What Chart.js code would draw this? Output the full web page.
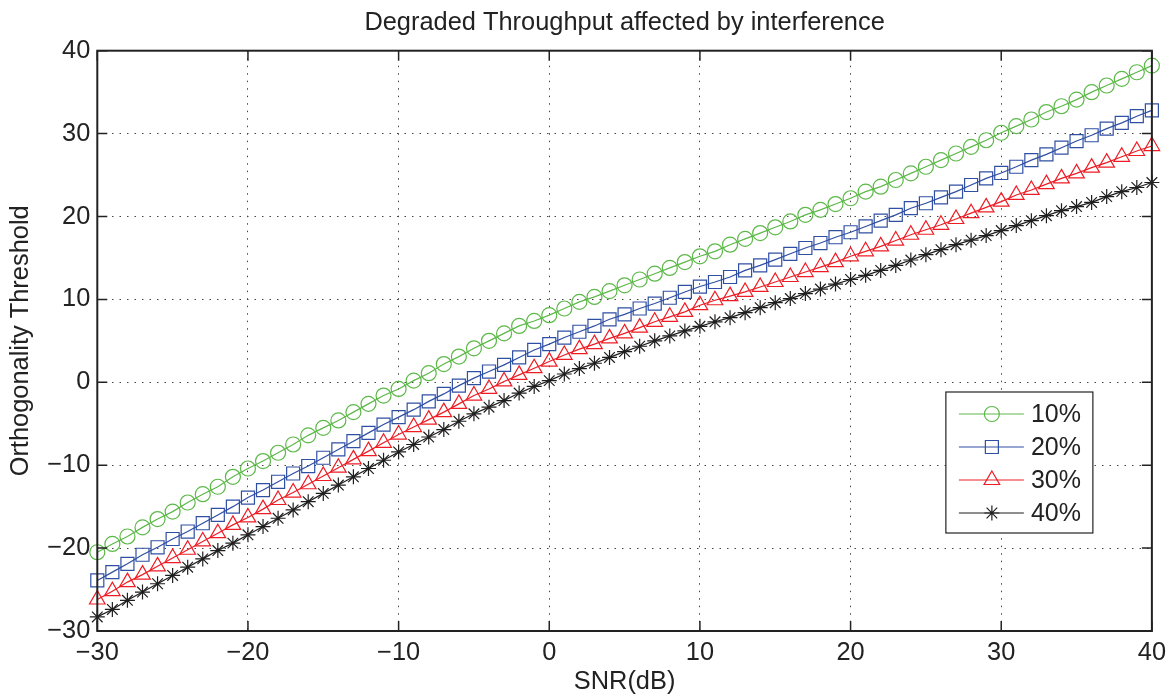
<!DOCTYPE html>
<html>
<head>
<meta charset="utf-8">
<script src="https://cdn.jsdelivr.net/npm/chart.js@4.4.1/dist/chart.umd.min.js"></script>
<style>
  html, body { margin: 0; padding: 0; background: #fff; }
  #wrap { width: 1175px; height: 696px; }
</style>
</head>
<body>
<div id="wrap"><canvas id="chart" width="1175" height="696"></canvas></div>
<script>
// SNR axis values (dB)
const snr = [-30, -29, -28, -27, -26, -25, -24, -23, -22, -21,
             -20, -19, -18, -17, -16, -15, -14, -13, -12, -11,
             -10, -9, -8, -7, -6, -5, -4, -3, -2, -1,
             0, 1, 2, 3, 4, 5, 6, 7, 8, 9,
             10, 11, 12, 13, 14, 15, 16, 17, 18, 19,
             20, 21, 22, 23, 24, 25, 26, 27, 28, 29,
             30, 31, 32, 33, 34, 35, 36, 37, 38, 39, 40];

// orthogonality threshold
const thr10 = [-20.5, -19.5, -18.6, -17.5, -16.5, -15.6, -14.5, -13.5, -12.6, -11.4,
               -10.4, -9.5, -8.5, -7.5, -6.4, -5.5, -4.6, -3.6, -2.6, -1.6,
               -0.8, 0.2, 1.1, 2.2, 3.1, 4.1, 5.0, 5.9, 6.8, 7.4,
               8.1, 8.9, 9.7, 10.3, 11.0, 11.7, 12.4, 13.1, 13.8, 14.5,
               15.2, 15.8, 16.6, 17.3, 18.0, 18.7, 19.4, 20.2, 20.8, 21.5,
               22.2, 23.0, 23.6, 24.4, 25.2, 26.0, 26.8, 27.6, 28.4, 29.2,
               30.1, 30.9, 31.7, 32.6, 33.3, 34.1, 35.0, 35.8, 36.6, 37.4, 38.2];
const thr20 = [-23.9, -22.9, -21.9, -20.8, -19.9, -18.9, -18.0, -17.0, -16.0, -15.0,
               -13.9, -13.0, -12.0, -11.0, -10.1, -9.1, -8.1, -7.1, -6.1, -5.1,
               -4.2, -3.3, -2.3, -1.4, -0.4, 0.5, 1.3, 2.1, 3.0, 3.9,
               4.6, 5.4, 6.1, 6.8, 7.6, 8.2, 8.9, 9.5, 10.2, 10.9,
               11.55, 12.1, 12.7, 13.5, 14.1, 14.8, 15.5, 16.2, 16.8, 17.5,
               18.1, 18.8, 19.5, 20.2, 21.0, 21.6, 22.3, 23.0, 23.8, 24.6,
               25.25, 26.0, 26.8, 27.5, 28.3, 29.1, 29.8, 30.6, 31.3, 32.1, 32.8];
const thr30 = [-26.2, -25.2, -24.1, -23.2, -22.2, -21.2, -20.2, -19.2, -18.2, -17.2,
               -16.3, -15.3, -14.2, -13.3, -12.3, -11.3, -10.3, -9.3, -8.3, -7.3,
               -6.3, -5.4, -4.5, -3.6, -2.6, -1.6, -0.8, 0.1, 0.9, 1.7,
               2.5, 3.3, 4.0, 4.6, 5.3, 5.9, 6.6, 7.3, 7.9, 8.5,
               9.3, 9.9, 10.4, 10.9, 11.5, 12.1, 12.7, 13.3, 13.9, 14.5,
               15.2, 15.8, 16.4, 17.1, 17.8, 18.4, 19.0, 19.7, 20.4, 21.1,
               21.8, 22.6, 23.2, 23.9, 24.6, 25.2, 25.9, 26.5, 27.2, 27.9, 28.5];
const thr40 = [-28.3, -27.4, -26.3, -25.3, -24.3, -23.3, -22.3, -21.3, -20.3, -19.4,
               -18.4, -17.4, -16.4, -15.4, -14.4, -13.4, -12.4, -11.4, -10.4, -9.4,
               -8.4, -7.5, -6.6, -5.7, -4.7, -3.8, -3.0, -2.2, -1.3, -0.5,
               0.2, 1.0, 1.65, 2.3, 3.0, 3.7, 4.35, 5.0, 5.6, 6.2,
               6.75, 7.3, 7.8, 8.4, 9.0, 9.6, 10.1, 10.7, 11.25, 11.85,
               12.4, 12.9, 13.5, 14.1, 14.75, 15.4, 16.0, 16.6, 17.15, 17.7,
               18.3, 18.9, 19.5, 20.1, 20.7, 21.2, 21.7, 22.4, 23.0, 23.5, 24.1];

const seriesNames = ['10%', '20%', '30%', '40%'];
const xTicks = [-30, -20, -10, 0, 10, 20, 30, 40];
const yTicks = [-30, -20, -10, 0, 10, 20, 30, 40];

const FONT = "'Liberation Sans', Arial, Helvetica, sans-serif";
const TXT = '#222';

function pts(vals) {
    return snr.map((x, i) => ({ x: x, y: vals[i] }));
}

function fmt(v) {
    return v < 0 ? '\u2212' + Math.abs(v) : String(v);
}

// frame, inward tick marks and the legend box (matlab style)
const matlabFrame = {
    id: 'matlabFrame',
    afterDatasetsDraw(chart) {
        const ctx = chart.ctx;
        const a = chart.chartArea;
        const xs = chart.scales.x, ys = chart.scales.y;
        const tl = 10;
        ctx.save();
        ctx.strokeStyle = '#222';
        ctx.lineWidth = 1.5;
        ctx.beginPath();
        xTicks.forEach(v => {
            const px = xs.getPixelForValue(v);
            ctx.moveTo(px, a.bottom); ctx.lineTo(px, a.bottom - tl);
            ctx.moveTo(px, a.top); ctx.lineTo(px, a.top + tl);
        });
        yTicks.forEach(v => {
            const py = ys.getPixelForValue(v);
            ctx.moveTo(a.left, py); ctx.lineTo(a.left + tl, py);
            ctx.moveTo(a.right, py); ctx.lineTo(a.right - tl, py);
        });
        ctx.stroke();
        ctx.lineWidth = 2;
        ctx.strokeRect(a.left, a.top, a.right - a.left, a.bottom - a.top);

        // legend
        const bx = a.right - 206, by = a.bottom - 239, bw = 147, bh = 141;
        ctx.fillStyle = '#fff';
        ctx.fillRect(bx, by, bw, bh);
        ctx.lineWidth = 1.2;
        ctx.strokeStyle = '#222';
        ctx.strokeRect(bx, by, bw, bh);
        ctx.font = '25px ' + FONT;
        ctx.textBaseline = 'middle';
        ctx.textAlign = 'left';
        chart.data.datasets.forEach((ds, i) => {
            const ry = by + 22 + i * 33;
            ctx.strokeStyle = ds.borderColor;
            ctx.lineWidth = 1.2;
            ctx.beginPath();
            ctx.moveTo(bx + 13, ry);
            ctx.lineTo(bx + 78, ry);
            ctx.stroke();
            ctx.fillStyle = 'rgba(0,0,0,0)';
            ctx.strokeStyle = ds.pointBorderColor;
            ctx.lineWidth = ds.pointBorderWidth;
            Chart.helpers.drawPoint(ctx, {
                pointStyle: ds.pointStyle,
                radius: ds.pointRadius,
                borderWidth: ds.pointBorderWidth
            }, bx + 46, ry);
            ctx.fillStyle = TXT;
            ctx.fillText(ds.label, bx + 85, ry + 1);
        });
        ctx.restore();
    }
};

function series(label, vals, color, style, radius) {
    return {
        label: label,
        data: pts(vals),
        borderColor: color,
        backgroundColor: 'rgba(0,0,0,0)',
        borderWidth: 1.2,
        pointStyle: style,
        pointRadius: radius,
        pointHoverRadius: radius,
        pointBorderColor: color,
        pointBackgroundColor: 'rgba(0,0,0,0)',
        pointBorderWidth: 1.2,
        tension: 0,
        clip: false
    };
}

const ctx = document.getElementById('chart').getContext('2d');
new Chart(ctx, {
    type: 'line',
    data: {
        datasets: [
            series(seriesNames[0], thr10, '#5cb848', 'circle', 7.5),
            series(seriesNames[1], thr20, '#2f4fa3', 'rect', 9.2),
            series(seriesNames[2], thr30, '#ee1c24', 'triangle', 9),
            series(seriesNames[3], thr40, '#1e1e1e', 'star', 7.5)
        ]
    },
    options: {
        responsive: false,
        animation: false,
        events: [],
        layout: { padding: { left: 0, right: 21.7, top: 0, bottom: 0 } },
        plugins: {
            legend: { display: false },
            tooltip: { enabled: false },
            title: {
                display: true,
                text: 'Degraded Throughput affected by interference',
                fullSize: false,
                color: TXT,
                font: { family: FONT, size: 25.4, weight: 'normal', lineHeight: 1 },
                padding: { top: 10.2, bottom: 15.1 }
            }
        },
        scales: {
            x: {
                type: 'linear',
                min: -30,
                max: 40,
                afterFit: s => { s.height = 65; },
                afterBuildTicks: s => { s.ticks = xTicks.map(v => ({ value: v })); },
                ticks: {
                    color: TXT,
                    padding: 9,
                    maxRotation: 0,
                    font: { family: FONT, size: 25.4, lineHeight: 1 },
                    callback: v => fmt(v)
                },
                grid: { color: '#444', lineWidth: 1, drawTicks: false },
                border: { display: false, dash: [1.5, 6] },
                title: {
                    display: true,
                    text: 'SNR(dB)',
                    color: TXT,
                    font: { family: FONT, size: 25.4, lineHeight: 1 },
                    padding: { top: 0, bottom: 1.4 }
                }
            },
            y: {
                type: 'linear',
                min: -30,
                max: 40,
                afterFit: s => { s.width = 97.3; },
                afterBuildTicks: s => { s.ticks = yTicks.map(v => ({ value: v })); },
                ticks: {
                    color: TXT,
                    padding: 7,
                    font: { family: FONT, size: 25.4, lineHeight: 1 },
                    callback: v => fmt(v)
                },
                grid: { color: '#444', lineWidth: 1, drawTicks: false },
                border: { display: false, dash: [1.5, 6] },
                title: {
                    display: true,
                    text: 'Orthogonality Threshold',
                    color: TXT,
                    font: { family: FONT, size: 25.4, lineHeight: 1 },
                    padding: { top: 8.7, bottom: 0 }
                }
            }
        }
    },
    plugins: [matlabFrame]
});
</script>
</body>
</html>
